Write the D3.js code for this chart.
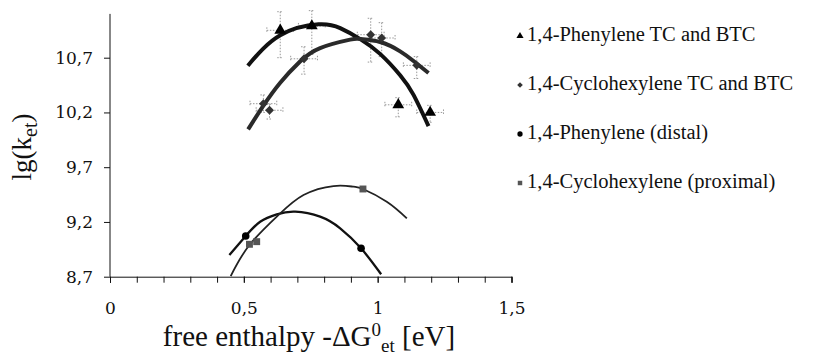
<!DOCTYPE html>
<html>
<head>
<meta charset="utf-8">
<script src="https://cdn.jsdelivr.net/npm/d3@7"></script>
<style>
  body { margin: 0; background: #fff; }
  svg { display: block; }
</style>
</head>
<body>
<div id="chart"></div>
<script>
// measured points
const triX = [0.636, 0.754, 1.077, 1.196];
const triY = [10.95, 10.99, 10.27, 10.20];
const triErrUp = [0.17, 0.14, 0.065, 0.065];
const triErrDown = [0.25, 0.26, 0.11, 0.09];

const diaX = [0.573, 0.596, 0.725, 0.974, 1.015, 1.146];
const diaY = [10.28, 10.22, 10.69, 10.91, 10.88, 10.63];
const diaErrUp = [0.08, 0.055, 0.11, 0.15, 0.14, 0.08];
const diaErrDown = [0.08, 0.08, 0.14, 0.25, 0.17, 0.12];

const xErr = 0.05;

const circX = [0.507, 0.938];
const circY = [9.072, 8.959];

const sqX = [0.521, 0.548, 0.945];
const sqY = [8.996, 9.020, 9.501];

// trendlines
const triFitX = [0.515, 0.636, 0.779, 0.860, 0.935, 1.009, 1.084, 1.134, 1.190];
const triFitY = [10.627, 10.905, 11.005, 10.970, 10.870, 10.735, 10.540, 10.360, 10.075];

const diaFitX = [0.516, 0.573, 0.636, 0.710, 0.785, 0.897, 0.935, 1.009, 1.084, 1.134, 1.190];
const diaFitY = [10.045, 10.262, 10.472, 10.665, 10.788, 10.865, 10.870, 10.843, 10.758, 10.670, 10.560];

const circFitX = [0.446, 0.507, 0.561, 0.623, 0.692, 0.785, 0.860, 0.938, 1.013];
const circFitY = [8.898, 9.072, 9.202, 9.270, 9.294, 9.248, 9.142, 8.959, 8.722];

const sqFitX = [0.451, 0.521, 0.629, 0.723, 0.835, 0.910, 0.945, 1.034, 1.109];
const sqFitY = [8.706, 8.990, 9.263, 9.446, 9.528, 9.522, 9.501, 9.385, 9.233];

const yTicks = [8.7, 9.2, 9.7, 10.2, 10.7];
const xTicks = [0, 0.5, 1, 1.5];
const xMinorTicks = d3.range(0, 16).map(i => i / 10);

const legendLabels = [
  '1,4-Phenylene TC and BTC',
  '1,4-Cyclohexylene TC and BTC',
  '1,4-Phenylene (distal)',
  '1,4-Cyclohexylene (proximal)'
];

const width = 835;
const height = 356;
const serif = '"Liberation Serif", serif';
const tickFont = '"DejaVu Serif", serif';

const fmt = d3.formatLocale({decimal: ',', thousands: '.', grouping: [3], currency: ['', '']});

const x = d3.scaleLinear().domain([0, 1.5]).range([110, 511.5]);
const y = d3.scaleLinear().domain([8.7, 10.7]).range([276.7, 57.7]);

const svg = d3.select('#chart').append('svg')
    .attr('width', width)
    .attr('height', height);

// axes
const yAxis = d3.axisLeft(y)
    .tickValues(yTicks)
    .tickSize(6)
    .tickPadding(11)
    .tickFormat(d => fmt.format('.1f')(d));

const gy = svg.append('g')
    .attr('transform', `translate(${x(0)},0)`)
    .call(yAxis);
gy.select('.domain').attr('d', `M0,${y(8.7)}V${y(11.1)}`);

const xAxisMinor = d3.axisBottom(x)
    .tickValues(xMinorTicks)
    .tickSize(6)
    .tickFormat('');

svg.append('g')
    .attr('transform', `translate(0,${y(8.7)})`)
    .call(xAxisMinor);

const xAxis = d3.axisBottom(x)
    .tickValues(xTicks)
    .tickSize(6)
    .tickPadding(19)
    .tickFormat(d => d === 0 || d === 1 ? String(d) : fmt.format('.1f')(d));

const gx = svg.append('g')
    .attr('transform', `translate(0,${y(8.7)})`)
    .call(xAxis);
gx.select('.domain').remove();

svg.selectAll('.domain, .tick line').attr('stroke', '#111').attr('stroke-width', 1);
svg.selectAll('.tick text')
    .attr('fill', '#111')
    .style('font-family', tickFont)
    .style('font-size', '17px');

// axis titles
svg.append('text')
    .attr('transform', 'translate(31,147) rotate(-90)')
    .attr('text-anchor', 'middle')
    .style('font-family', serif)
    .style('font-size', '27px')
    .attr('fill', '#111')
    .call(t => {
      t.append('tspan').text('lg(k');
      t.append('tspan').attr('dy', 6).style('font-size', '20px').text('et');
      t.append('tspan').attr('dy', -6).text(')');
    });

svg.append('text')
    .attr('x', 309)
    .attr('y', 346)
    .attr('text-anchor', 'middle')
    .style('font-family', serif)
    .style('font-size', '29px')
    .attr('fill', '#111')
    .call(t => {
      t.append('tspan').text('free enthalpy -ΔG');
      t.append('tspan').attr('dy', -10).style('font-size', '19px').text('0');
      t.append('tspan').attr('dy', 16).style('font-size', '19px').text('et');
      t.append('tspan').attr('dy', -6).text(' [eV]');
    });

// error bars
const errData = [
  ...triX.map((d, i) => ({x: d, y: triY[i], up: triErrUp[i], down: triErrDown[i]})),
  ...diaX.map((d, i) => ({x: d, y: diaY[i], up: diaErrUp[i], down: diaErrDown[i]}))
];

const err = svg.append('g')
    .attr('stroke', '#9a9a9a')
    .attr('stroke-width', 1)
    .attr('stroke-dasharray', '1.5,1.5')
    .attr('fill', 'none');

err.selectAll('path')
    .data(errData)
    .join('path')
    .attr('d', d => {
      const cx = x(d.x), cy = y(d.y);
      const y0 = y(d.y + d.up), y1 = y(d.y - d.down);
      const x0 = x(d.x - xErr), x1 = x(d.x + xErr);
      const c = 3;
      return `M${cx},${y0}V${y1}` +
             `M${cx - c},${y0}H${cx + c}M${cx - c},${y1}H${cx + c}` +
             `M${x0},${cy}H${x1}` +
             `M${x0},${cy - c}V${cy + c}M${x1},${cy - c}V${cy + c}`;
    });

// trendlines
const line = d3.line()
    .x(d => x(d[0]))
    .y(d => y(d[1]))
    .curve(d3.curveNatural);

const fits = [
  {xs: triFitX, ys: triFitY, color: '#111', w: 4},
  {xs: diaFitX, ys: diaFitY, color: '#2a2a2a', w: 4},
  {xs: circFitX, ys: circFitY, color: '#111', w: 2.3},
  {xs: sqFitX, ys: sqFitY, color: '#222', w: 1.8}
];

svg.append('g')
    .selectAll('path')
    .data(fits)
    .join('path')
    .attr('fill', 'none')
    .attr('stroke', d => d.color)
    .attr('stroke-width', d => d.w)
    .attr('d', d => line(d.xs.map((v, i) => [v, d.ys[i]])));

// markers
const series = [
  {xs: triX, ys: triY, type: d3.symbolTriangle, size: 60, color: '#000', lsize: 22},
  {xs: diaX, ys: diaY, type: d3.symbolDiamond2, size: 50, color: '#333', lsize: 20},
  {xs: circX, ys: circY, type: d3.symbolCircle, size: 45, color: '#000', lsize: 22},
  {xs: sqX, ys: sqY, type: d3.symbolSquare, size: 48, color: '#555', lsize: 20}
];

series.forEach(s => {
  svg.append('g')
      .selectAll('path')
      .data(s.xs.map((v, i) => [v, s.ys[i]]))
      .join('path')
      .attr('transform', d => `translate(${x(d[0])},${y(d[1])})`)
      .attr('d', d3.symbol(s.type, s.size))
      .attr('fill', s.color);
});

// legend
const legend = svg.append('g')
    .selectAll('g')
    .data(series)
    .join('g')
    .attr('transform', (d, i) => `translate(520,${36 + i * 49})`);

legend.append('path')
    .attr('d', d => d3.symbol(d.type, d.lsize)())
    .attr('fill', d => d.color);

legend.append('text')
    .attr('x', 7)
    .attr('y', 5)
    .style('font-family', serif)
    .style('font-size', '20.5px')
    .attr('fill', '#111')
    .text((d, i) => legendLabels[i]);
</script>
</body>
</html>
